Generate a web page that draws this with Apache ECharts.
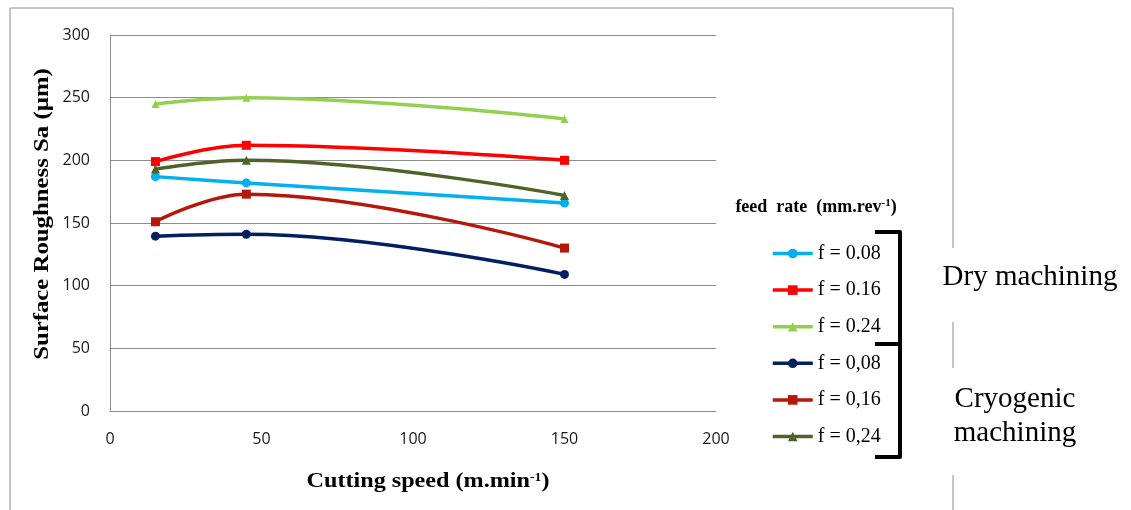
<!DOCTYPE html>
<html><head><meta charset="utf-8">
<script src="https://cdn.jsdelivr.net/npm/echarts@6/dist/echarts.min.js"></script>
<style>html,body{margin:0;padding:0;background:#fff}#c{width:1131px;height:510px}</style>
</head><body><div id="c"></div>
<script>
const speeds = [15, 45, 150];
const dry008 = [187, 182, 166];
const dry016 = [199, 212, 200];
const dry024 = [245, 250, 233];
const cryo008 = [139.5, 141, 109];
const cryo016 = [151, 173, 130];
const cryo024 = [193, 200, 172];
const seriesNames = ['f = 0.08', 'f = 0.16', 'f = 0.24', 'f = 0,08', 'f = 0,16', 'f = 0,24'];
const seriesValues = [dry008, dry016, dry024, cryo008, cryo016, cryo024];
const seriesColors = ['#00B0F0', '#FF0000', '#92D050', '#002060', '#B5170B', '#4F6228'];
const seriesSymbols = ['circle', 'rect', 'triangle', 'circle', 'rect', 'triangle'];
const symbolSizes = [9, 9, 8, 9, 9, 9];
const yTicks = [0, 50, 100, 150, 200, 250, 300];
const xTicks = [0, 50, 100, 150, 200];

const chart = echarts.init(document.getElementById('c'));
const serif = 'Liberation Serif, Times New Roman, serif';
const sans = 'Open Sans, Liberation Sans, sans-serif';

const series = seriesNames.map((n, i) => ({
  name: n, type: 'line', smooth: 0.4,
  data: speeds.map((s, j) => [s, seriesValues[i][j]]),
  symbol: seriesSymbols[i], symbolSize: symbolSizes[i],
  lineStyle: { color: seriesColors[i], width: 3.5 },
  itemStyle: { color: seriesColors[i] },
  z: 3 + i
}));

chart.setOption({
  animation: false,
  backgroundColor: '#fff',
  grid: { left: 110, top: 35, width: 606, height: 376, containLabel: false },
  xAxis: {
    type: 'value', min: xTicks[0], max: xTicks[xTicks.length - 1], interval: 50,
    axisLine: { show: true, lineStyle: { color: '#8c8c8c', width: 1 } },
    axisTick: { show: false }, splitLine: { show: false },
    axisLabel: { margin: 20, fontFamily: sans, fontSize: 16, color: '#1a1a1a' }
  },
  yAxis: {
    type: 'value', min: yTicks[0], max: yTicks[yTicks.length - 1], interval: 50,
    axisLine: { show: true, lineStyle: { color: '#8c8c8c', width: 1 } },
    axisTick: { show: false },
    splitLine: { show: true, lineStyle: { color: '#8c8c8c', width: 1 } },
    axisLabel: { margin: 20, fontFamily: sans, fontSize: 16, color: '#1a1a1a' }
  },
  legend: {
    orient: 'vertical', left: 771, top: 243.5, padding: 0,
    itemWidth: 40, itemHeight: 12, itemGap: 16.6,
    lineStyle: { width: 3.5 },
    textStyle: { fontFamily: serif, fontSize: 20, color: '#000', lineHeight: 20 },
    data: seriesNames
  },
  series: series,
  graphic: [
    { type: 'line', shape: { x1: 10, y1: 8, x2: 953, y2: 8 }, style: { stroke: '#8c8c8c', lineWidth: 1 }, silent: true },
    { type: 'line', shape: { x1: 10, y1: 8, x2: 10, y2: 510 }, style: { stroke: '#8c8c8c', lineWidth: 1 }, silent: true },
    { type: 'line', shape: { x1: 953, y1: 8, x2: 953, y2: 248 }, style: { stroke: '#8c8c8c', lineWidth: 1 }, silent: true },
    { type: 'line', shape: { x1: 953, y1: 322, x2: 953, y2: 368 }, style: { stroke: '#8c8c8c', lineWidth: 1 }, silent: true },
    { type: 'line', shape: { x1: 953, y1: 475, x2: 953, y2: 510 }, style: { stroke: '#8c8c8c', lineWidth: 1 }, silent: true },
    { type: 'polyline', shape: { points: [[875, 232], [900, 232], [900, 457], [875, 457]] }, style: { stroke: '#000', lineWidth: 4, fill: null, lineJoin: 'round' }, silent: true },
    { type: 'line', shape: { x1: 875, y1: 344, x2: 900, y2: 344 }, style: { stroke: '#000', lineWidth: 4 }, silent: true },
    { type: 'text', x: 43, y: 214, rotation: Math.PI / 2, scaleX: 1.18, silent: true,
      style: { text: 'Surface Roughness Sa (µm)', font: 'bold 21px ' + serif, fill: '#000', align: 'center', verticalAlign: 'middle' } },
    { type: 'text', x: 428, y: 482, scaleX: 1.15, silent: true,
      style: { text: '{a|Cutting speed (m.min}{s|-1}{a|)}', align: 'center', verticalAlign: 'middle',
        rich: { a: { fontSize: 21, fontWeight: 'bold', fontFamily: serif },
                s: { fontSize: 12, fontWeight: 'bold', fontFamily: serif, padding: [0, 0, 9, 0] } } } },
    { type: 'text', x: 816, y: 207, silent: true,
      style: { text: '{a|feed  rate  (mm.rev}{s|-1}{a|)}', align: 'center', verticalAlign: 'middle',
        rich: { a: { fontSize: 18, fontWeight: 'bold', fontFamily: serif },
                s: { fontSize: 11, fontWeight: 'bold', fontFamily: serif, padding: [0, 0, 8, 0] } } } },
    { type: 'text', x: 1030, y: 277, silent: true,
      style: { text: 'Dry machining', font: '29px ' + serif, fill: '#000', align: 'center', verticalAlign: 'middle' } },
    { type: 'text', x: 1015, y: 416, silent: true,
      style: { text: 'Cryogenic\nmachining', fontSize: 29, fontFamily: serif, lineHeight: 34, fill: '#000', align: 'center', verticalAlign: 'middle' } }
  ]
});
</script></body></html>
